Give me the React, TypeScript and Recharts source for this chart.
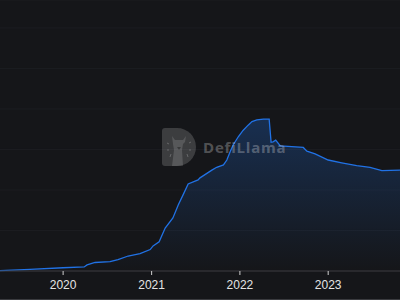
import { Area, AreaChart, CartesianGrid, XAxis, YAxis } from "recharts";

const DATES = [
  "2019-04-15", "2019-08-17", "2020-01-01", "2020-03-28", "2020-04-09", "2020-05-12",
  "2020-07-13", "2020-08-15", "2020-09-26", "2020-11-14", "2020-12-26", "2021-01-07",
  "2021-02-01", "2021-02-26", "2021-03-30", "2021-04-21", "2021-05-11", "2021-06-01",
  "2021-07-12", "2021-07-20", "2021-09-07", "2021-09-27", "2021-10-25", "2021-11-08",
  "2021-11-22", "2021-12-04", "2021-12-26", "2022-01-14", "2022-02-04", "2022-02-20",
  "2022-03-12", "2022-04-08", "2022-05-02", "2022-05-10", "2022-05-18", "2022-05-29",
  "2022-06-17", "2022-09-20", "2022-10-05", "2022-11-08", "2023-01-01", "2023-02-26",
  "2023-04-29", "2023-06-23", "2023-08-11", "2023-10-25"
];

// TVL, in grid units
const TVL = [
  0.01, 0.04, 0.08, 0.1, 0.15, 0.21,
  0.23, 0.28, 0.37, 0.43, 0.53, 0.62,
  0.72, 1.06, 1.31, 1.63, 1.88, 2.15,
  2.25, 2.3, 2.49, 2.56, 2.62, 2.74,
  2.95, 3.11, 3.32, 3.47, 3.6, 3.69,
  3.73, 3.75, 3.75, 3.18, 3.19, 3.23,
  3.09, 3.05, 2.96, 2.89, 2.74, 2.67,
  2.6, 2.56, 2.48, 2.49
];

const YEAR_TICKS = ["2020-01-01", "2021-01-01", "2022-01-01", "2023-01-01"];
const GRID_TICKS = [0, 1, 2, 3, 4, 5, 6];

const toTime = (d: string) => new Date(d + "T00:00:00Z").getTime();

const data = DATES.map((d, i) => ({ t: toTime(d), tvl: TVL[i] }));

function Watermark() {
  return (
    <div
      style={{
        position: "absolute",
        left: 162,
        top: 128,
        display: "flex",
        alignItems: "center",
        gap: 7,
        pointerEvents: "none"
      }}
    >
      <svg width={34} height={38} viewBox="0 0 34 38">
        <path d="M3 0 H15 A19 19 0 0 1 15 38 H3 A3 3 0 0 1 0 35 V3 A3 3 0 0 1 3 0 Z" fill="rgba(255,255,255,0.17)" />
        <path
          d="M10 8 L13 12 L21 12 L24 8 L23 14 L21 16 L20 22 L21 38 L10 38 L12 22 L11 16 Z"
          fill="rgba(255,255,255,0.14)"
        />
        <path d="M15 19 L19 19 L17 22 Z" fill="rgba(0,0,0,0.35)" />
        <path d="M5 15 L7 16 M5 22 L7 22 M27 15 L29 14 M27 22 L29 22 M9 26 L8 29 M25 26 L26 29" stroke="rgba(255,255,255,0.22)" strokeWidth={1} />
      </svg>
      <span
        style={{
          fontFamily: "'Open Sans', 'DejaVu Sans', sans-serif",
          fontWeight: 700,
          fontSize: 15,
          color: "rgba(255,255,255,0.27)",
          letterSpacing: 0.8
        }}
      >
        DefiLlama
      </span>
    </div>
  );
}

export default function App() {
  return (
    <div
      style={{
        position: "fixed",
        left: 0,
        top: 0,
        width: 400,
        height: 300,
        background: "#151619",
        overflow: "hidden"
      }}
    >
      <AreaChart width={400} height={299} data={data} margin={{ top: 0, right: 0, left: 0, bottom: 0 }}>
        <defs>
          <linearGradient id="tvlFill" x1="0" y1="0" x2="0" y2="1">
            <stop offset="0%" stopColor="#2172E5" stopOpacity={0.27} />
            <stop offset="100%" stopColor="#2172E5" stopOpacity={0} />
          </linearGradient>
        </defs>
        <CartesianGrid horizontal vertical={false} stroke="#1c1d21" />
        <YAxis hide domain={[0, 6.69]} ticks={GRID_TICKS} />
        <XAxis
          dataKey="t"
          type="number"
          scale="time"
          domain={["dataMin", "dataMax"]}
          ticks={YEAR_TICKS.map(toTime)}
          tickFormatter={(v: number) => String(new Date(v).getUTCFullYear())}
          height={28}
          axisLine={{ stroke: "#3a3b3f" }}
          tickLine={{ stroke: "#d0d0d0" }}
          tickSize={4}
          tickMargin={5}
          tick={{ fill: "#e4e4e4", fontSize: 12, fontFamily: "Arial, 'Liberation Sans', sans-serif" }}
        />
        <Area
          type="linear"
          dataKey="tvl"
          stroke="#2172E5"
          strokeWidth={1.3}
          fill="url(#tvlFill)"
          fillOpacity={1}
          dot={false}
          activeDot={false}
          isAnimationActive={false}
        />
      </AreaChart>
      <div style={{ height: 1, background: "#3a3b3f" }} />
      <Watermark />
    </div>
  );
}
